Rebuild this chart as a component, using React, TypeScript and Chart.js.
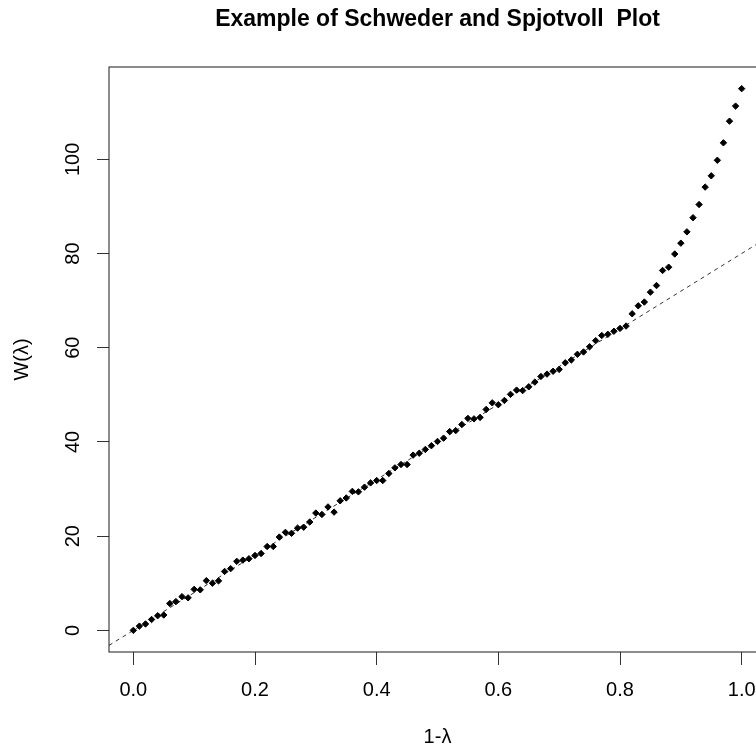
import React, { useEffect, useRef } from 'react';
import { Chart, registerables } from 'chart.js';

Chart.register(...registerables);

const TITLE = 'Example of Schweder and Spjotvoll  Plot';
const X_LABEL = '1-λ';
const Y_LABEL = 'W(λ)';

const ONE_MINUS_LAMBDA = [
  0.0, 0.01, 0.02, 0.03, 0.04, 0.05, 0.06, 0.07, 0.08, 0.09,
  0.1, 0.11, 0.12, 0.13, 0.14, 0.15, 0.16, 0.17, 0.18, 0.19,
  0.2, 0.21, 0.22, 0.23, 0.24, 0.25, 0.26, 0.27, 0.28, 0.29,
  0.3, 0.31, 0.32, 0.33, 0.34, 0.35, 0.36, 0.37, 0.38, 0.39,
  0.4, 0.41, 0.42, 0.43, 0.44, 0.45, 0.46, 0.47, 0.48, 0.49,
  0.5, 0.51, 0.52, 0.53, 0.54, 0.55, 0.56, 0.57, 0.58, 0.59,
  0.6, 0.61, 0.62, 0.63, 0.64, 0.65, 0.66, 0.67, 0.68, 0.69,
  0.7, 0.71, 0.72, 0.73, 0.74, 0.75, 0.76, 0.77, 0.78, 0.79,
  0.8, 0.81, 0.82, 0.83, 0.84, 0.85, 0.86, 0.87, 0.88, 0.89,
  0.9, 0.91, 0.92, 0.93, 0.94, 0.95, 0.96, 0.97, 0.98, 0.99,
  1.0,
];

const W_LAMBDA = [
  0, 0.9, 1.35, 2.3, 3.1, 3.25, 5.7, 6.1, 7.15, 6.9,
  8.7, 8.6, 10.55, 10.0, 10.5, 12.5, 13.1, 14.65, 14.9, 15.2,
  15.9, 16.3, 17.8, 17.8, 19.8, 20.8, 20.6, 21.7, 21.9, 23.0,
  24.9, 24.6, 26.2, 25.1, 27.5, 28.1, 29.5, 29.4, 30.4, 31.3,
  31.8, 31.8, 33.3, 34.5, 35.2, 35.2, 37.2, 37.6, 38.4, 39.2,
  40.1, 40.8, 42.2, 42.4, 43.7, 45.0, 44.9, 45.2, 46.9, 48.3,
  47.9, 48.8, 50.1, 51.0, 50.9, 51.7, 52.7, 53.9, 54.4, 55.0,
  55.4, 56.8, 57.4, 58.6, 59.1, 60.2, 61.5, 62.6, 62.85, 63.5,
  64.1, 64.6, 67.2, 68.9, 69.7, 71.8, 73.2, 76.4, 77.1, 79.9,
  82.2, 84.6, 87.6, 90.4, 94.1, 96.5, 99.8, 103.5, 108.1, 111.3,
  115.0,
];

const X_TICKS = [0, 0.2, 0.4, 0.6, 0.8, 1.0];
const Y_TICKS = [0, 20, 40, 60, 80, 100];
const X_RANGE = [-0.04, 1.04];
const Y_RANGE = [-4.6, 119.6];
const REF_SLOPE = 80;
const REF_INTERCEPT = 0;

const FONT = '"Liberation Sans", Arial, Helvetica, sans-serif';

const framePlugin = {
  id: 'rframe',
  afterDatasetsDraw(chart: any) {
    const { ctx, chartArea } = chart;
    const { left, top, right, bottom } = chartArea;
    ctx.save();
    ctx.strokeStyle = '#1a1a1a';
    ctx.lineWidth = 1;
    ctx.strokeRect(left, top, right - left, bottom - top);
    ctx.restore();
  },
};

export default function App() {
  const ref = useRef<HTMLCanvasElement>(null);

  useEffect(() => {
    const canvas = ref.current;
    if (!canvas) return;
    const points = ONE_MINUS_LAMBDA.map((x, i) => ({ x, y: W_LAMBDA[i] }));
    const refLine = X_RANGE.map((x) => ({ x, y: REF_INTERCEPT + REF_SLOPE * x }));

    const chart = new Chart(canvas, {
      type: 'scatter',
      data: {
        datasets: [
          {
            data: points,
            pointStyle: 'rectRot',
            pointRadius: 3.2,
            backgroundColor: '#000',
            borderColor: '#000',
            borderWidth: 1,
            showLine: false,
          } as any,
          {
            type: 'line',
            data: refLine,
            borderColor: '#333',
            borderWidth: 1,
            borderDash: [4, 4],
            pointRadius: 0,
            showLine: true,
            fill: false,
            tension: 0,
          } as any,
        ],
      },
      options: {
        responsive: false,
        animation: false,
        devicePixelRatio: 1,
        events: [],
        layout: { padding: { left: 0, top: 0, right: 34, bottom: 0 } },
        plugins: {
          legend: { display: false },
          tooltip: { enabled: false },
          title: {
            display: true,
            text: TITLE,
            fullSize: false,
            color: '#000',
            font: { family: FONT, size: 23, weight: 'bold', lineHeight: 1.2 },
            padding: { top: 6, bottom: 33.4 },
          },
        },
        scales: {
          x: {
            type: 'linear',
            min: X_RANGE[0],
            max: X_RANGE[1],
            afterBuildTicks: (s: any) => {
              s.ticks = X_TICKS.map((v) => ({ value: v }));
            },
            afterFit: (s: any) => {
              s.height = 97;
            },
            ticks: {
              color: '#000',
              font: { family: FONT, size: 20 },
              padding: 13,
              minRotation: 0,
              maxRotation: 0,
              autoSkip: false,
              callback: (v: any) => Number(v).toFixed(1),
            },
            grid: {
              display: true,
              drawOnChartArea: false,
              drawTicks: true,
              tickLength: 13,
              tickColor: '#333',
              lineWidth: 1,
            },
            border: { display: false },
            title: {
              display: true,
              text: X_LABEL,
              color: '#000',
              font: { family: FONT, size: 20 },
              padding: { top: 0, bottom: 0 },
            },
          },
          y: {
            type: 'linear',
            min: Y_RANGE[0],
            max: Y_RANGE[1],
            afterBuildTicks: (s: any) => {
              s.ticks = Y_TICKS.map((v) => ({ value: v }));
            },
            afterFit: (s: any) => {
              s.width = 109;
            },
            ticks: {
              color: '#000',
              font: { family: FONT, size: 20 },
              padding: 7,
              minRotation: 90,
              maxRotation: 90,
              crossAlign: 'center',
              autoSkip: false,
              callback: (v: any) => String(v),
            },
            grid: {
              display: true,
              drawOnChartArea: false,
              drawTicks: true,
              tickLength: 12,
              tickColor: '#333',
              lineWidth: 1,
            },
            border: { display: false },
            title: {
              display: true,
              text: Y_LABEL,
              color: '#000',
              font: { family: FONT, size: 20 },
              padding: { top: 10, bottom: 0 },
            },
          },
        },
      } as any,
      plugins: [framePlugin],
    });

    return () => chart.destroy();
  }, []);

  return (
    <div
      style={{
        position: 'fixed',
        left: 0,
        top: 0,
        width: 756,
        height: 749,
        overflow: 'hidden',
        background: '#fff',
      }}
    >
      <canvas
        ref={ref}
        width={800}
        height={749}
        style={{ display: 'block', width: 800, height: 749 }}
      />
    </div>
  );
}
